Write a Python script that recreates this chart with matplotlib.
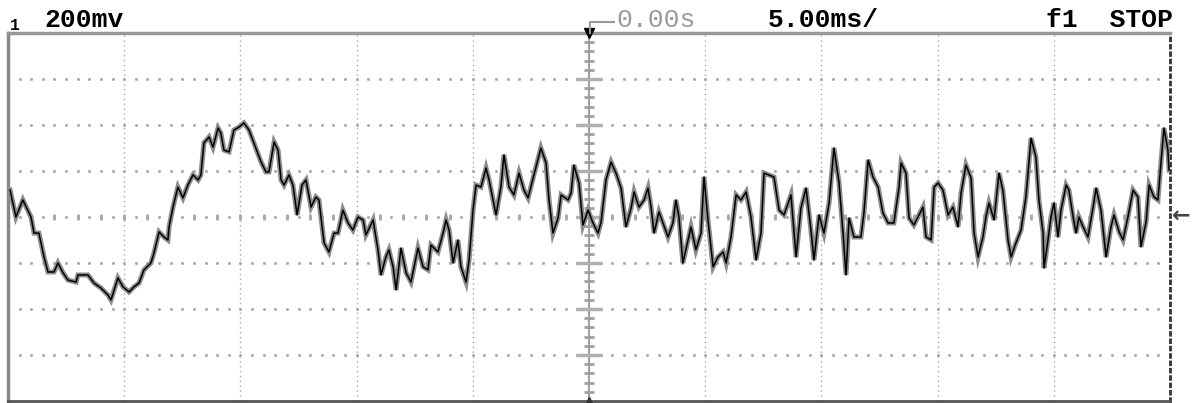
import numpy as np
import matplotlib.pyplot as plt
from matplotlib.lines import Line2D

# scope settings
ms_per_div = 5.0
mv_per_div = 200
n_xdiv = 10
n_ydiv = 8

ch_label = "1"
volt_label = "200mv"
delay_label = "0.00s"
time_label = "5.00ms/"
status_label = "f1  STOP"

# trace: time (ms), voltage (mV)
t_ms = [-24.91, -24.66, -24.36, -24.01, -23.88, -23.67, -23.45, -23.28, -23.02, -22.85,
        -22.63, -22.42, -22.07, -21.99, -21.56, -21.30, -21.00, -20.70, -20.57, -20.27,
        -20.05, -19.79, -19.58, -19.36, -19.15, -18.85, -18.72, -18.50, -18.29, -18.12,
        -18.07, -17.90, -17.69, -17.47, -17.26, -17.04, -16.82, -16.70, -16.57, -16.35,
        -16.18, -15.96, -15.84, -15.71, -15.49, -15.28, -15.06, -14.85, -14.63, -14.42,
        -14.11, -13.90, -13.77, -13.55, -13.38, -13.25, -13.12, -12.91, -12.74, -12.56,
        -12.35, -12.18,
        -11.96, -11.75, -11.62, -11.40, -11.19, -10.97, -10.80, -10.59, -10.37, -10.16,
        -9.94, -9.72, -9.60, -9.29, -9.08, -8.95, -8.74, -8.61, -8.43, -8.30,
        -8.09, -7.87, -7.66, -7.36, -7.14, -6.93, -6.80, -6.50, -6.28, -6.15,
        -6.02, -5.85, -5.64, -5.51, -5.29, -5.16, -4.99, -4.86, -4.65, -4.43,
        -4.30, -4.00, -3.79, -3.66, -3.44, -3.23, -3.01, -2.80, -2.62, -2.37,
        -2.07, -1.85, -1.72, -1.55, -1.33, -1.20, -0.90, -0.77, -0.65, -0.43,
        -0.26, -0.04, 0.17, 0.39, 0.52,
        0.73, 0.95, 1.16, 1.38, 1.59, 1.81, 1.94, 2.15, 2.37, 2.54,
        2.67, 2.80, 3.01, 3.18, 3.40, 3.61, 3.74, 3.87, 4.04, 4.26,
        4.39, 4.60, 4.82, 4.95, 5.12, 5.34, 5.55, 5.77, 5.90, 6.11,
        6.33, 6.54, 6.76, 6.97, 7.19, 7.40, 7.53, 7.96, 8.18, 8.39,
        8.69, 8.91, 9.12, 9.34, 9.55, 9.68, 9.90, 10.11, 10.33, 10.54,
        10.76, 10.93, 11.06, 11.19, 11.40, 11.70, 11.83, 12.01, 12.22, 12.44,
        12.65, 12.87, 13.12, 13.34,
        13.43, 13.64, 13.77, 13.98, 14.20, 14.37, 14.50, 14.72, 14.85, 15.02,
        15.23, 15.45, 15.66, 15.88, 16.01, 16.22, 16.44, 16.57, 16.74, 16.95,
        17.08, 17.21, 17.43, 17.64, 17.81, 18.03, 18.16, 18.37, 18.59, 18.80,
        19.02, 19.23, 19.36, 19.54, 19.58, 19.75, 19.88, 20.01, 20.18, 20.31,
        20.53, 20.65, 20.83, 20.96, 21.08, 21.26, 21.47, 21.69, 21.82, 22.03,
        22.25, 22.46, 22.59, 22.81, 22.98, 23.19, 23.41, 23.62, 23.75, 23.97,
        24.10, 24.31, 24.48, 24.61, 24.74, 24.91, 24.96]

v_mv = [117, 0, 74, 0, -70, -70, -174, -239, -239, -200,
        -243, -274, -283, -252, -252, -287, -309, -339, -361, -265,
        -304, -326, -304, -287, -230, -200, -157, -65, -87, -100,
        -43, 43, 130, 83, 139, 183, 161, 183, 322, 348,
        304, 387, 365, 291, 283, 378, 391, 409, 378, 322,
        239, 196, 196, 326, 291, 161, 139, 183, 139, 9,
        139, 161,
        43, 87, 74, -113, -152, -70, -70, 30, -26, -57,
        0, -13, -78, -13, -143, -252, -174, -143, -217, -317,
        -135, -243, -283, -135, -217, -230, -122, -152, -70, -13,
        -57, -200, -100, -217, -283, -187, 30, 139, 130, 213,
        161, 9, 130, 270, 130, 96, 191, 117, 83, 183,
        300, 235, 74, -70, -4, 96, 74, 104, 226, 148,
        -35, 30, -26, -70, -22,
        161, 239, 191, 126, -43, 39, 109, 43, 74, 126,
        43, -70, 22, -26, -87, -26, 74, 0, -200, -100,
        -43, -143, -70, 174, -13, -217, -174, -152, -200, -87,
        96, 74, 109, 0, -187, -70, 191, 174, 30, 9,
        96, -174, 39, 126, -57, -187, 9, -70, 61, 300,
        148, -70, -252, -4, -87, -87, 17, 248, 174, 130,
        17, -26, -26, 130,
        235, 191, -4, -35, 9, 43, -87, -100, 130, 148,
        117, 9, 43, -43, 104, 226, 170, -70, -174, -87,
        0, 61, -13, 191, 117, -100, -174, -113, -57, 87,
        343, 261, 74, -70, -222, -100, 0, 61, -87, 30,
        139, 117, 0, -70, 0, -43, -87, 43, 126, 30,
        -174, -43, 9, -65, -100, 0, 117, 87, -130, -22,
        139, 87, 74, 235, 387, 291, 204]

W, H = 1197, 403


def px(x, y):
    return x / W, 1 - y / H


fig = plt.figure(figsize=(W / 100, H / 100), dpi=100)
ax = fig.add_axes([8 / W, 2 / H, (1170 - 8) / W, (401 - 33) / H])

tmax = ms_per_div * n_xdiv / 2
vmax = mv_per_div * n_ydiv / 2
ax.set_xlim(-tmax, tmax)
ax.set_ylim(-vmax, vmax)
ax.set_xticks([])
ax.set_yticks([])

grid_col = "#a8a8a8"
# vertical grid lines
for x in np.arange(-tmax + ms_per_div, tmax, ms_per_div):
    if abs(x) < 1e-9:
        continue
    ax.axvline(x, color=grid_col, lw=1, ls=(0, (1, 2.5)), zorder=1)

# dotted horizontal rows
xdots = np.arange(-tmax + ms_per_div / 10, tmax, ms_per_div / 10)
for y in np.arange(-vmax + mv_per_div, vmax, mv_per_div):
    ax.plot(xdots, np.full_like(xdots, y), ls="none", marker="s", ms=1.0,
            color=grid_col, zorder=1)

# center axes with ticks
xminor = np.arange(-tmax + ms_per_div / 5, tmax, ms_per_div / 5)
ax.plot(xminor, np.zeros_like(xminor), ls="none", marker="|", ms=5, mew=2,
        color="#aaaaaa", zorder=1)
ax.axvline(0, color="#a0a0a0", lw=1.5, zorder=1)
yminor = np.arange(-vmax + mv_per_div / 5, vmax, mv_per_div / 5)
ax.plot(np.zeros_like(yminor), yminor, ls="none", marker="_", ms=7, mew=2,
        color="#a0a0a0", zorder=1)
ymajor = np.arange(-vmax + mv_per_div, vmax, mv_per_div)
ax.plot(np.zeros_like(ymajor), ymajor, ls="none", marker="_", ms=19, mew=2.5,
        color="#b0b0b0", zorder=1)

# trace
ax.plot(t_ms, v_mv, color="#8c8c8c", lw=3.6, zorder=3, solid_joinstyle="miter")
ax.plot(t_ms, v_mv, color="black", lw=1.1, zorder=4)

# frame
ax.spines["left"].set_color("#888888")
ax.spines["left"].set_linewidth(2.5)
ax.spines["top"].set_color("#999999")
ax.spines["top"].set_linewidth(2.5)
ax.spines["bottom"].set_color("#555555")
ax.spines["bottom"].set_linewidth(2)
ax.spines["right"].set_color("#333333")
ax.spines["right"].set_linewidth(2)
ax.spines["right"].set_linestyle(":")

# trigger markers
ax.plot(0, vmax, marker="v", ms=7, color="black", clip_on=False, zorder=5)
ax.plot(0, -vmax, marker="^", ms=6, color="#333333", clip_on=False, zorder=5)

# header text
mono = dict(family="Liberation Mono", weight="bold", fontsize=19, va="baseline")
fig.text(*px(10, 30), ch_label, family="Liberation Mono", weight="bold",
         fontsize=12, va="baseline")
fig.text(*px(44, 27), volt_label, **mono)
fig.text(*px(616, 27), delay_label, color="#9a9a9a", family="Liberation Mono",
         fontsize=19, va="baseline")
fig.text(*px(768, 27), time_label, **mono)
fig.text(*px(1046, 27), status_label, **mono)
fig.add_artist(Line2D([590 / W, 590 / W, 614 / W],
                      [1 - 33 / H, 1 - 22 / H, 1 - 22 / H], color="#9a9a9a", lw=1.5))

# trigger level arrow on the right
fig.text(*px(1172, 216), "\u2190", fontsize=16, weight="bold", color="#444444",
         va="center")

fig.savefig("out.png", dpi=100)
